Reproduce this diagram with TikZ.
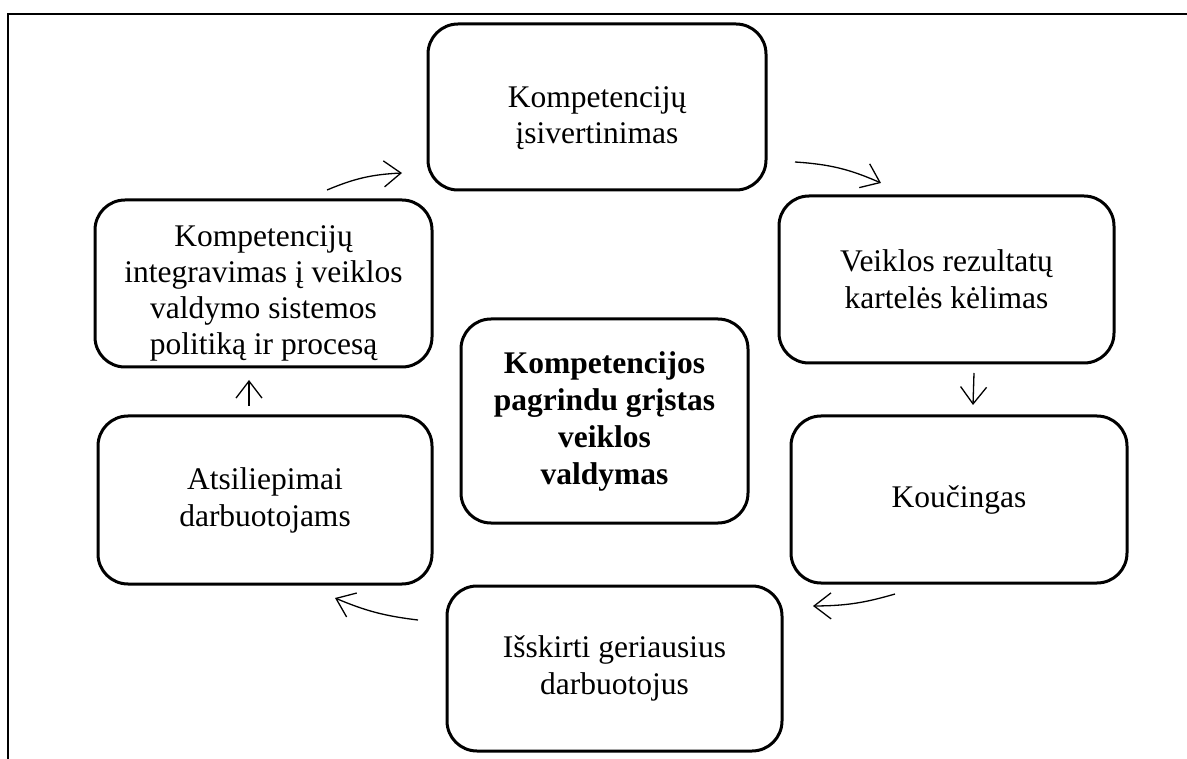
\documentclass[tikz,border=0pt]{standalone}
\usepackage{fontspec}
\setmainfont{Liberation Serif}
\usetikzlibrary{arrows.meta}
\begin{document}
\begin{tikzpicture}[x=1pt,y=-1pt,
  stage/.style={draw,line width=3pt,rounded corners=30pt,inner sep=0pt,
    align=center,font=\fontsize{31.5}{37}\selectfont},
  caption/.style={align=center,inner sep=0pt,font=\fontsize{31.5}{36}\selectfont},
  flow/.style={line width=1.3pt,-{Straight Barb[length=17pt,width=26pt,line width=1.3pt]}}]
\useasboundingbox (0,0) rectangle (1187,759);
% page frame
\draw[line width=2.4pt] (8,759) -- (8,14) -- (1187,14);

% stages of the cycle
\node[stage,minimum width=338pt,minimum height=166pt] (assess) at (597,107) {};
\node[caption] (assessT) at (597,118) {Kompetencijų\\įsivertinimas};
\node[stage,minimum width=335pt,minimum height=167pt] (raise) at (946.5,279.5)
  {Veiklos rezultatų\\kartelės kėlimas};
\node[stage,minimum width=336pt,minimum height=167pt] (coach) at (959,499.5)
  {Koučingas};
\node[stage,minimum width=335pt,minimum height=165pt] (best) at (614.5,668.5)
  {Išskirti geriausius\\darbuotojus};
\node[stage,minimum width=334pt,minimum height=168pt] (feedback) at (265,500)
  {Atsiliepimai\\darbuotojams};
\node[stage,minimum width=337pt,minimum height=167pt] (integr) at (263.5,283.5) {};
\node[caption] (integrT) at (263.5,293)
  {Kompetencijų\\integravimas į veiklos\\valdymo sistemos\\politiką ir procesą};
\node[stage,minimum width=287pt,minimum height=204pt] (core) at (604.5,421)
  {\bfseries Kompetencijos\\\bfseries pagrindu grįstas\\\bfseries veiklos\\\bfseries valdymas};

% arrow ends between the stages
\coordinate (a1s) at (327,190);  \coordinate (a1e) at (402,173);
\coordinate (a2s) at (795,162);  \coordinate (a2e) at (881,183);
\coordinate (a3s) at (974,373);  \coordinate (a3e) at (973,405);
\coordinate (a4s) at (895,594);  \coordinate (a4e) at (813,606);
\coordinate (a5s) at (418,620);  \coordinate (a5e) at (335,598);
\coordinate (a6s) at (249,406);  \coordinate (a6e) at (249,380);

\draw[flow] (a1s) to[bend left=10] (a1e);
\draw[flow] (a2s) to[bend left=10] (a2e);
\draw[flow] (a3s) -- (a3e);
\draw[flow] (a4s) to[bend left=8] (a4e);
\draw[flow] (a5s) to[bend left=8] (a5e);
\draw[flow] (a6s) -- (a6e);
\end{tikzpicture}
\end{document}
